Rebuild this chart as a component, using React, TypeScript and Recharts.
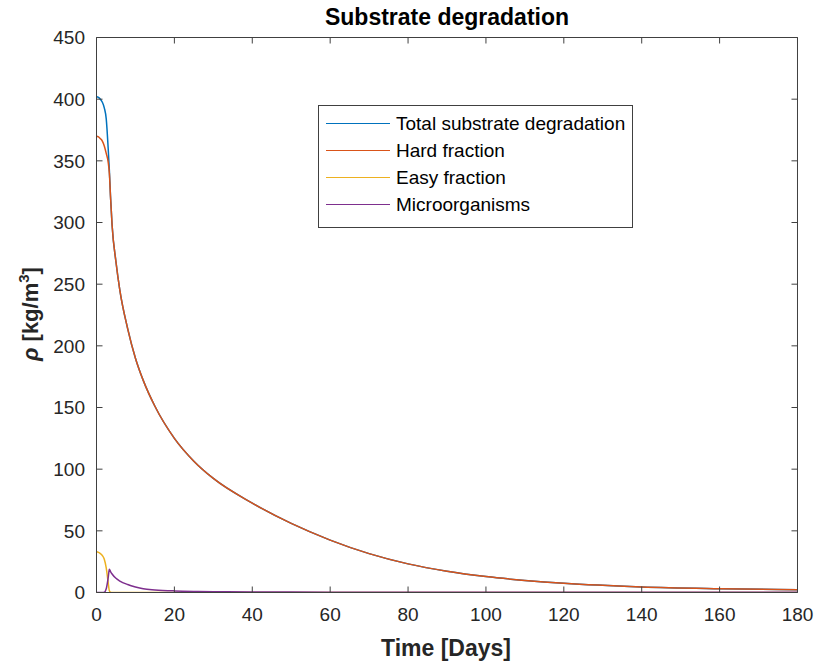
import React from 'react';
import { LineChart, Line, XAxis, YAxis, Legend } from 'recharts';

// Substrate degradation over time
const TIME_DAYS = [0, 0.5, 1, 1.5, 2, 2.5, 3, 3.3, 3.6, 4, 5, 6, 8, 10, 12, 15, 20, 25, 30, 40, 50, 60, 70, 80, 90, 100, 110, 120, 140, 160, 180];
const TOTAL = [402, 401.5, 400, 397.5, 393, 384, 360, 342.5, 321, 298, 268, 245, 214, 190, 172, 151, 125, 106.5, 92.5, 72.5, 56, 42.5, 31.5, 23.2, 17.2, 12.9, 9.8, 7.4, 4.5, 3.1, 2.2];
const HARD = [370, 369.5, 368, 366, 362, 356, 349, 340, 321, 298, 268, 245, 214, 190, 172, 151, 125, 106.5, 92.5, 72.5, 56, 42.5, 31.5, 23.2, 17.2, 12.9, 9.8, 7.4, 4.5, 3.1, 2.2];
const EASY = [33, 32.5, 31.5, 30, 27, 20, 8, 1.5, 0.3, 0, 0, 0, 0, 0, 0, 0, 0, 0, 0, 0, 0, 0, 0, 0, 0, 0, 0, 0, 0, 0, 0];
const MICRO = [0, 0, 0, 0, 0.2, 3, 12, 18.8, 17, 15, 11.5, 9.3, 6.5, 4.5, 3, 2.1, 1.3, 0.9, 0.7, 0.45, 0.35, 0.3, 0.25, 0.2, 0.2, 0.2, 0.2, 0.2, 0.2, 0.2, 0.2];

const X_TICKS = [0, 20, 40, 60, 80, 100, 120, 140, 160, 180];
const Y_TICKS = [0, 50, 100, 150, 200, 250, 300, 350, 400, 450];

const SERIES = [
  { key: 'total', name: 'Total substrate degradation', color: '#0072BD' },
  { key: 'hard', name: 'Hard fraction', color: '#D95319' },
  { key: 'easy', name: 'Easy fraction', color: '#EDB120' },
  { key: 'micro', name: 'Microorganisms', color: '#7E2F8E' },
];

const data = TIME_DAYS.map((t, i) => ({
  t,
  total: TOTAL[i],
  hard: HARD[i],
  easy: EASY[i],
  micro: MICRO[i],
}));

const FONT = '"Liberation Sans", Arial, Helvetica, sans-serif';
const TEXT = '#262626';
const AXIS = '#404040';

const tickStyle = { fill: TEXT, fontSize: 19, fontFamily: FONT };

// title + x axis title, drawn from the bottom axis label slot
const XTitles = () => (
  <g>
    <text x={447} y={25} textAnchor="middle" fontFamily={FONT} fontSize={23} fontWeight="bold" fill="#000">
      Substrate degradation
    </text>
    <text x={446} y={656} textAnchor="middle" fontFamily={FONT} fontSize={23} fontWeight="bold" fill={TEXT}>
      Time [Days]
    </text>
  </g>
);

const YTitle = () => (
  <text
    x={0}
    y={0}
    transform="translate(37.5, 314) rotate(-90)"
    textAnchor="middle"
    fontFamily={FONT}
    fontSize={22}
    fontWeight="bold"
    fill={TEXT}
  >
    <tspan fontStyle="italic">ρ</tspan>
    <tspan> [kg/m</tspan>
    <tspan dy={-9} fontSize={15}>3</tspan>
    <tspan dy={9}>]</tspan>
  </text>
);

const renderLegend = () => (
  <div
    style={{
      width: 315,
      height: 123,
      boxSizing: 'border-box',
      border: `1px solid ${AXIS}`,
      background: '#fff',
      paddingTop: 4,
      fontFamily: FONT,
      fontSize: 19,
      color: '#000',
    }}
  >
    {SERIES.map((s) => (
      <div key={s.key} style={{ display: 'flex', alignItems: 'center', height: 27 }}>
        <span
          style={{
            display: 'inline-block',
            width: 64,
            marginLeft: 7,
            marginRight: 6,
            borderTop: `1.5px solid ${s.color}`,
          }}
        />
        <span>{s.name}</span>
      </div>
    ))}
  </div>
);

export default function App() {
  return (
    <div style={{ position: 'absolute', left: 0, top: 0, width: 819, height: 668, background: '#fff' }}>
      <LineChart width={819} height={668} data={data} margin={{ top: 37.5, right: 21.5, bottom: 0, left: 0 }}>
        <XAxis
          xAxisId="bottom"
          dataKey="t"
          type="number"
          domain={[0, 180]}
          ticks={X_TICKS}
          interval={0}
          allowDataOverflow
          height={75.5}
          tickSize={-6}
          tickMargin={21}
          axisLine={{ stroke: AXIS }}
          tickLine={{ stroke: AXIS }}
          tick={tickStyle}
          label={XTitles}
        />
        <XAxis
          xAxisId="top"
          dataKey="t"
          orientation="top"
          type="number"
          domain={[0, 180]}
          ticks={X_TICKS}
          interval={0}
          allowDataOverflow
          height={0.01}
          tickSize={-6}
          tickFormatter={() => ''}
          axisLine={{ stroke: AXIS }}
          tickLine={{ stroke: AXIS }}
        />
        <YAxis
          yAxisId="left"
          type="number"
          domain={[0, 450]}
          ticks={Y_TICKS}
          interval={0}
          allowDataOverflow
          width={96.5}
          tickSize={-6}
          tickMargin={17.5}
          axisLine={{ stroke: AXIS }}
          tickLine={{ stroke: AXIS }}
          tick={tickStyle}
          label={YTitle}
        />
        <YAxis
          yAxisId="right"
          orientation="right"
          type="number"
          domain={[0, 450]}
          ticks={Y_TICKS}
          interval={0}
          allowDataOverflow
          width={0.01}
          tickSize={-6}
          tickFormatter={() => ''}
          axisLine={{ stroke: AXIS }}
          tickLine={{ stroke: AXIS }}
        />
        {SERIES.map((s, i) => (
          <Line
            key={s.key}
            xAxisId={i === 0 ? 'top' : 'bottom'}
            yAxisId={i === 0 ? 'right' : 'left'}
            type="monotone"
            dataKey={s.key}
            name={s.name}
            stroke={s.color}
            strokeWidth={1.5}
            dot={false}
            activeDot={false}
            isAnimationActive={false}
          />
        ))}
        <Legend
          layout="vertical"
          align="center"
          verticalAlign="middle"
          content={renderLegend}
          wrapperStyle={{ left: 318, top: 105, width: 315, height: 123 }}
        />
      </LineChart>
    </div>
  );
}
